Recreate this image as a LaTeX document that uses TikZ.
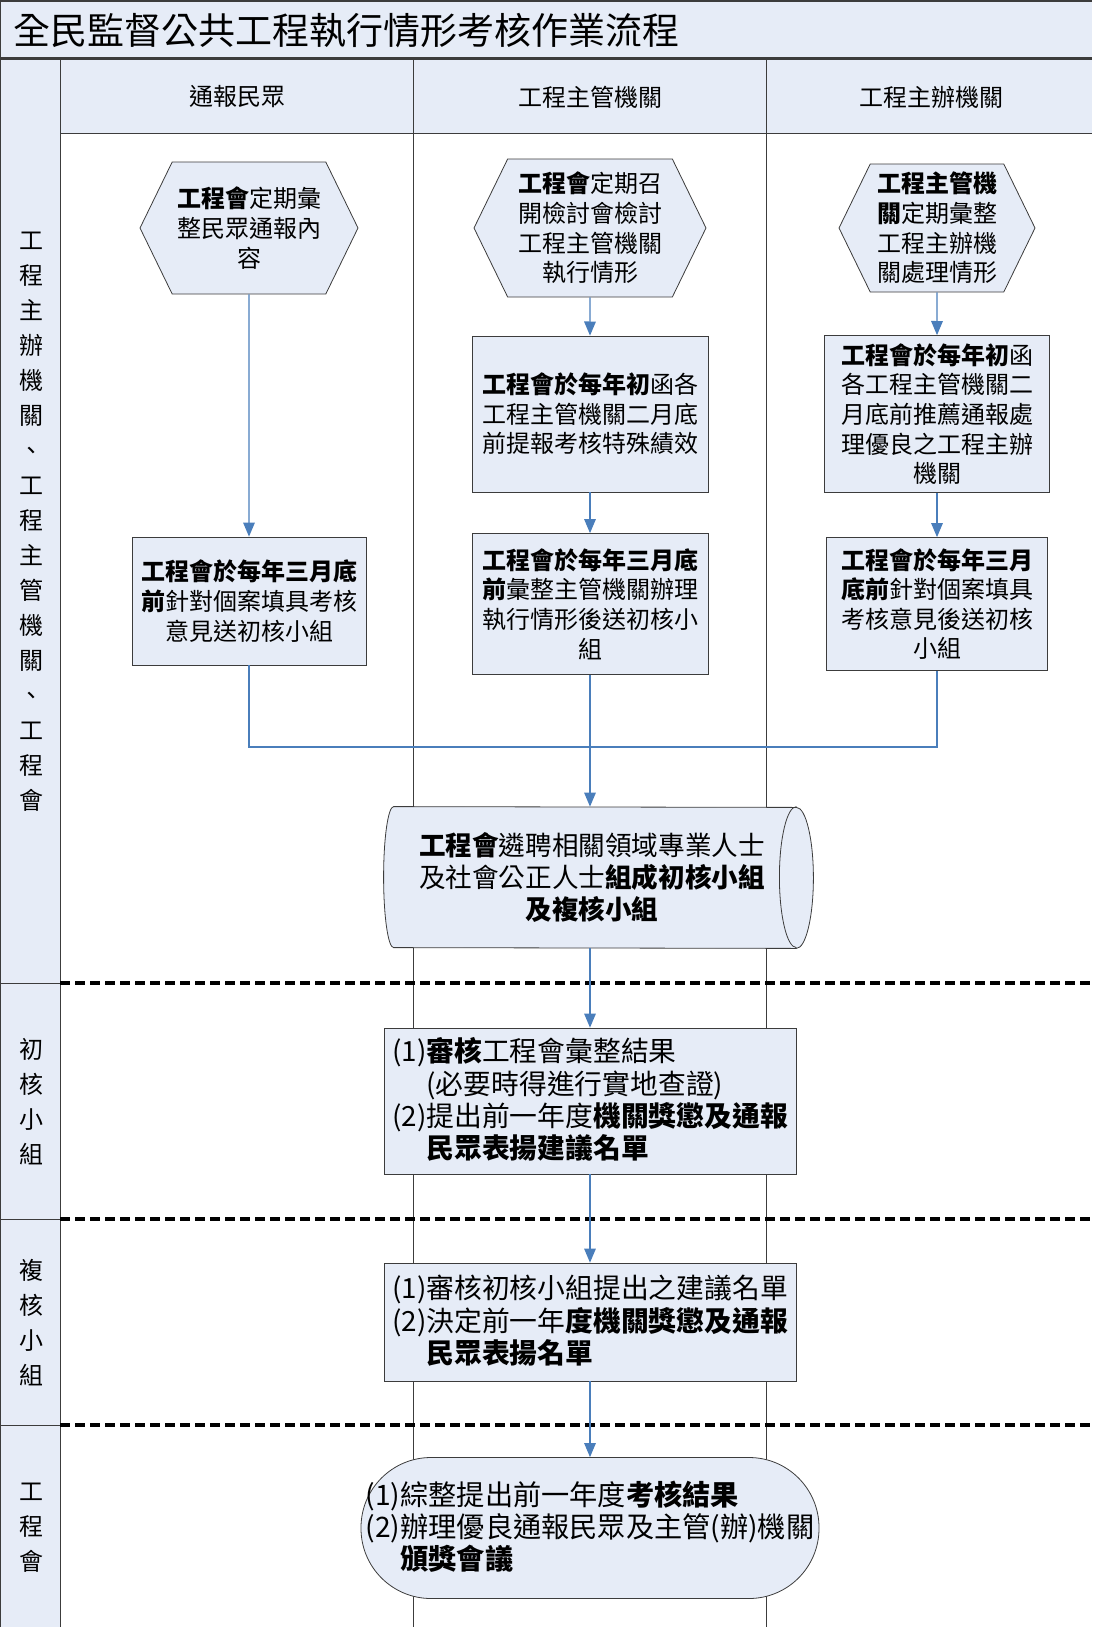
\documentclass[tikz,border=0pt]{standalone}
\usepackage{fontspec}
\setmainfont{Noto Sans CJK TC}
\usepackage{tikz}
\usetikzlibrary{shapes.geometric,shapes.symbols,arrows}
\usepackage{color}
\definecolor{fcblue}{RGB}{230,236,247}
\definecolor{fcarrow}{RGB}{74,126,187}
\definecolor{fcgray}{RGB}{60,60,60}

\begin{document}
\begin{tikzpicture}[x=0.5pt,y=-0.5pt,
  box/.style={draw=fcgray, fill=fcblue, align=center, inner sep=2pt, font=\fontsize{12}{14.8}\selectfont},
  hexnode/.style={box, shape=signal, signal to=east and west, signal pointer angle=128},
  bigbox/.style={draw=fcgray, fill=fcblue, align=left, inner sep=2pt, font=\fontsize{13.9}{16.2}\selectfont},
  flow/.style={fcarrow, semithick},
  lanesep/.style={black, line width=2pt, dash pattern=on 5pt off 2.5pt},
  lanelabel/.style={align=center, font=\fontsize{12}{17.5}\selectfont}]
  \useasboundingbox (0,0) rectangle (1092,1627);
  % Lanes
  \fill[fcblue] (0,0) rectangle (1092,59);
  \fill[fcblue] (0,59) rectangle (60,1627);
  \fill[fcblue] (60,59) rectangle (1092,133);
  \draw[fcgray, thick] (0,0) -- (0,1627);
  \draw[fcgray, thick] (0,1) -- (1092,1);
  \draw[fcgray, line width=1.5pt] (0,59) -- (1092,59);
  \draw[fcgray] (60,59) -- (60,1627);
  \draw[fcgray] (413,59) -- (413,1627);
  \draw[fcgray] (766,59) -- (766,1627);
  \draw[fcgray] (60,133) -- (1092,133);
  \draw[fcgray] (0,983) -- (60,983);
  \draw[fcgray] (0,1219) -- (60,1219);
  \draw[fcgray] (0,1425) -- (60,1425);
  \draw[lanesep] (60,983) -- (1092,983);
  \draw[lanesep] (60,1219) -- (1092,1219);
  \draw[lanesep] (60,1425) -- (1092,1425);
  \node[anchor=west, font=\fontsize{18.5}{20}\selectfont] (title) at (6,31) {全民監督公共工程執行情形考核作業流程};
  \node[font=\fontsize{12}{14}\selectfont] (public) at (237,97) {通報民眾};
  \node[font=\fontsize{12}{14}\selectfont] (super) at (590,97) {工程主管機關};
  \node[font=\fontsize{12}{14}\selectfont] (host) at (931,97) {工程主辦機關};
  \node[lanelabel] (rowall) at (31,522) {工\\程\\主\\辦\\機\\關\\、\\工\\程\\主\\管\\機\\關\\、\\工\\程\\會};
  \node[lanelabel] (rowfirst) at (31,1102) {初\\核\\小\\組};
  \node[lanelabel] (rowsecond) at (31,1323) {複\\核\\小\\組};
  \node[lanelabel] (rowpcc) at (31,1528) {工\\程\\會};

  % Upper steps
  \node[hexnode, minimum width=109pt, minimum height=66pt] (collect) at (249,228)
    {\textbf{工程會}定期彙\\整民眾通報內\\容};
  \node[hexnode, minimum width=116pt, minimum height=69pt] (review) at (590,228)
    {\textbf{工程會}定期召\\開檢討會檢討\\工程主管機關\\執行情形};
  \node[hexnode, minimum width=98pt, minimum height=64pt] (gather) at (937,228)
    {\textbf{工程主管機}\\\textbf{關}定期彙整\\工程主辦機\\關處理情形};
  \node[box, minimum width=118pt, minimum height=78pt] (askmerit) at (590,414)
    {\textbf{工程會於每年初}函各\\工程主管機關二月底\\前提報考核特殊績效};
  \node[box, minimum width=112.5pt, minimum height=78.5pt] (asknominee) at (937,414)
    {\textbf{工程會於每年初}函\\各工程主管機關二\\月底前推薦通報處\\理優良之工程主辦\\機關};
  \node[box, minimum width=117pt, minimum height=64pt] (opinionA) at (249,601)
    {\textbf{工程會於每年三月底}\\\textbf{前}針對個案填具考核\\意見送初核小組};
  \node[box, minimum width=118pt, minimum height=70.5pt] (opinionB) at (590,604)
    {\textbf{工程會於每年三月底}\\\textbf{前}彙整主管機關辦理\\執行情形後送初核小\\組};
  \node[box, minimum width=110.5pt, minimum height=66.5pt] (opinionC) at (937,604)
    {\textbf{工程會於每年三月}\\\textbf{底前}針對個案填具\\考核意見後送初核\\小組};

  % Panels
  \node[minimum width=201pt, minimum height=70.5pt, align=center, inner sep=2pt,
    font=\fontsize{13.3}{16}\selectfont] (panel) at (595,877.5) {};
  \draw[fcgray, fill=fcblue] (panel.north west)
    arc[start angle=90, end angle=270, x radius=5pt, y radius=35.25pt]
    -- (panel.south east)
    arc[start angle=270, end angle=450, x radius=8.5pt, y radius=35.25pt]
    -- cycle;
  \draw[fcgray] (panel.north east)
    arc[start angle=90, end angle=270, x radius=8.5pt, y radius=35.25pt];
  \node[align=center, font=\fontsize{13.3}{16}\selectfont] (paneltext) at (592,877.5)
    {\textbf{工程會}遴聘相關領域專業人士\\及社會公正人士\textbf{組成初核小組}\\\textbf{及複核小組}};
  \node[bigbox, minimum width=206pt, minimum height=73pt] (first) at (590,1101)
    {(1)\textbf{審核}工程會彙整結果\\\phantom{(1)}(必要時得進行實地查證)\\(2)提出前一年度\textbf{機關獎懲及通報}\\\phantom{(2)}\textbf{民眾表揚建議名單}};
  \node[bigbox, minimum width=206pt, minimum height=59pt] (second) at (590,1322)
    {(1)審核初核小組提出之建議名單\\(2)決定前一年\textbf{度機關獎懲及通報}\\\phantom{(2)}\textbf{民眾表揚名單}};
  \node[bigbox, rounded corners=35pt, minimum width=229pt, minimum height=70.5pt,
    font=\fontsize{14.1}{16}\selectfont] (final) at (590,1528)
    {(1)綜整提出前一年度\textbf{考核結果}\\(2)辦理優良通報民眾及主管(辦)機關\\\phantom{(2)}\textbf{頒獎會議}};

  % Connectors
  \coordinate (mergeA) at (249,747);
  \coordinate (mergeC) at (937,747);
  \draw[flow, ->, >=triangle 45] (collect) -- (opinionA);
  \draw[flow, ->, >=triangle 45] (review) -- (askmerit);
  \draw[flow, ->, >=triangle 45] (askmerit) -- (opinionB);
  \draw[flow, ->, >=triangle 45] (gather) -- (asknominee);
  \draw[flow, ->, >=triangle 45] (asknominee) -- (opinionC);
  \draw[flow] (opinionA.south) -- (mergeA) -- (mergeC) -- (opinionC.south);
  \draw[flow, ->, >=triangle 45] (opinionB.south) -- (opinionB.south |- panel.north);
  \draw[flow, ->, >=triangle 45] (first.north |- panel.south) -- (first.north);
  \draw[flow, ->, >=triangle 45] (first) -- (second);
  \draw[flow, ->, >=triangle 45] (second) -- (final);
\end{tikzpicture}
\end{document}
